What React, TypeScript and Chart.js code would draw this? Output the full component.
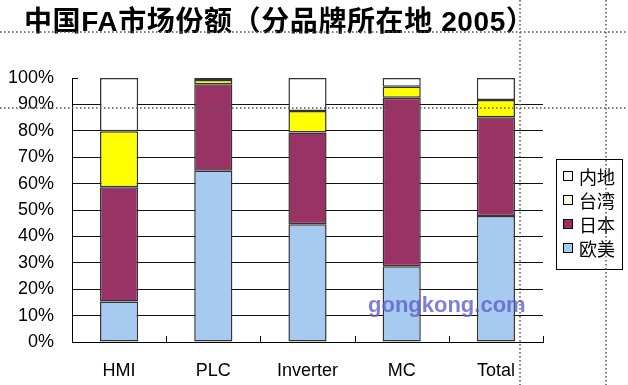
import React, { useEffect, useRef } from "react";
import { Chart, registerables } from "chart.js";

Chart.register(...registerables);

const categories = ["HMI", "PLC", "Inverter", "MC", "Total"];
const seriesNames = ["欧美", "日本", "台湾", "内地"];
const westValues = [15.3, 64.9, 44.6, 28.7, 47.7];
const japanValues = [43.3, 32.7, 34.8, 63.8, 37.4];
const taiwanValues = [21.2, 1.6, 8.1, 4.2, 6.6];
const mainlandValues = [20.2, 0.8, 12.5, 3.3, 8.3];
const yTicks = [0, 10, 20, 30, 40, 50, 60, 70, 80, 90, 100];
const titleText = "中国FA市场份额（分品牌所在地 2005）";
const watermarkText = "gongkong.com";

const barColors = ["#A6CAF0", "#993366", "#FFFF00", "#FFFFFF"];
const legendSwatchColors = ["#A6CAF0", "#993366", "#FFFCEE", "#FFFFFF"];

const overlayPlugin = {
  id: "overlay",
  afterDraw(chart: any) {
    const ctx = chart.ctx;
    const area = chart.chartArea;
    const W = chart.width;
    const H = chart.height;
    ctx.save();

    // short tick at 100%
    const y100 = chart.scales.y.getPixelForValue(100);
    ctx.strokeStyle = "#000";
    ctx.lineWidth = 1;
    ctx.beginPath();
    ctx.moveTo(area.left, y100 + 0.5);
    ctx.lineTo(area.left + 6, y100 + 0.5);
    ctx.stroke();

    // category boundary ticks on x axis (pointing up)
    const n = categories.length;
    const cw = (area.right - area.left) / n;
    ctx.beginPath();
    for (let i = 1; i <= n; i++) {
      const x = Math.round(area.left + cw * i) + 0.5;
      ctx.moveTo(x, area.bottom);
      ctx.lineTo(x, area.bottom - 6);
    }
    ctx.stroke();

    // title
    ctx.fillStyle = "#000";
    ctx.font = 'bold 28px "Liberation Sans", "Noto Sans CJK SC"';
    ctx.textAlign = "left";
    ctx.textBaseline = "middle";
    try {
      (ctx as any).letterSpacing = "0.6px";
    } catch (e) {}
    ctx.fillText(titleText, 24, 23);
    try {
      (ctx as any).letterSpacing = "0px";
    } catch (e) {}

    // legend
    const lx = 556, ly = 159, lw = 66, lh = 110;
    ctx.fillStyle = "#fff";
    ctx.fillRect(lx, ly, lw, lh);
    ctx.strokeStyle = "#000";
    ctx.lineWidth = 1;
    ctx.strokeRect(lx + 0.5, ly + 0.5, lw, lh);
    const order = [3, 2, 1, 0];
    ctx.font = '18px "Noto Sans CJK SC"';
    order.forEach((si, row) => {
      const cy = 176 + row * 24;
      ctx.fillStyle = legendSwatchColors[si];
      ctx.fillRect(563, cy - 5, 9, 9);
      ctx.strokeStyle = "#000";
      ctx.strokeRect(563.5, cy - 4.5, 9, 9);
      ctx.fillStyle = "#000";
      ctx.fillText(seriesNames[si], 579, cy + 1);
    });

    // watermark
    ctx.font = 'bold 22px "Liberation Sans"';
    ctx.fillStyle = "rgba(95,95,205,0.8)";
    ctx.fillText(watermarkText, 368, 306);

    // dotted guide lines
    ctx.strokeStyle = "#555";
    ctx.lineWidth = 1.5;
    ctx.setLineDash([1.5, 2.5]);
    ctx.beginPath();
    ctx.moveTo(0, 32);
    ctx.lineTo(W, 32);
    ctx.moveTo(0, 108);
    ctx.lineTo(W, 108);
    ctx.moveTo(520, 0);
    ctx.lineTo(520, H);
    ctx.moveTo(606, 0);
    ctx.lineTo(606, H);
    ctx.stroke();

    ctx.restore();
  },
};

export default function App() {
  const ref = useRef<HTMLCanvasElement | null>(null);
  useEffect(() => {
    if (!ref.current) return;
    const values = [westValues, japanValues, taiwanValues, mainlandValues];
    const chart = new Chart(ref.current, {
      type: "bar",
      data: {
        labels: categories,
        datasets: seriesNames.map((name, i) => ({
          label: name,
          data: values[i],
          backgroundColor: barColors[i],
          borderColor: "#333",
          borderWidth: 1.5,
          borderSkipped: false,
          categoryPercentage: 1,
          barPercentage: 0.405,
        })),
      },
      options: {
        responsive: false,
        animation: false,
        devicePixelRatio: 1,
        layout: { padding: { top: 78, right: 85, left: 0, bottom: 0 } },
        plugins: {
          legend: { display: false },
          title: { display: false },
          tooltip: { enabled: false },
        },
        scales: {
          x: {
            stacked: true,
            grid: { display: false, drawTicks: false },
            border: { display: true, color: "#000", width: 1 },
            ticks: {
              color: "#000",
              padding: 18,
              font: { family: "Liberation Sans", size: 18 },
              maxRotation: 0,
            },
            afterFit: (s: any) => {
              s.height = 43;
            },
          },
          y: {
            stacked: true,
            min: 0,
            max: 100,
            afterBuildTicks: (s: any) => {
              s.ticks = yTicks.map((v) => ({ value: v }));
            },
            ticks: {
              color: "#000",
              padding: 18,
              font: { family: "Liberation Sans", size: 18 },
              callback: (v: any) => v + "%",
            },
            grid: {
              drawTicks: false,
              color: (c: any) =>
                c.tick && (c.tick.value === 100 || c.tick.value === 0) ? "rgba(0,0,0,0)" : "#111",
              lineWidth: 1,
            },
            border: { display: true, color: "#000", width: 1 },
            afterFit: (s: any) => {
              s.width = 72;
            },
          },
        },
      },
      plugins: [overlayPlugin],
    });
    return () => chart.destroy();
  }, []);
  return (
    <div style={{ position: "absolute", left: 0, top: 0, width: 628, height: 385, background: "#fff" }}>
      <canvas ref={ref} width={628} height={385} />
    </div>
  );
}
